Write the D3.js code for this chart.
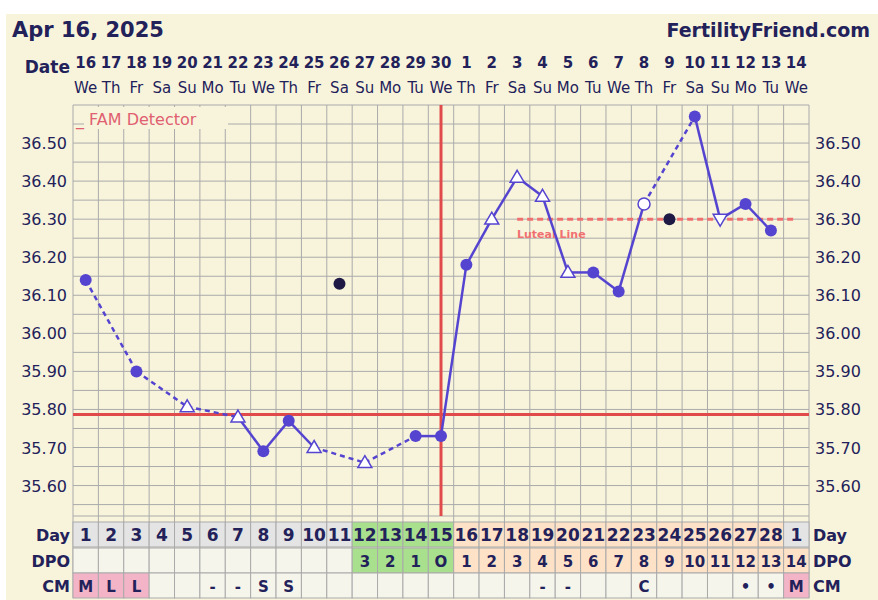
<!DOCTYPE html>
<html><head><meta charset="UTF-8">
<script src="https://d3js.org/d3.v7.min.js"></script>
<style>body{margin:0;background:#fff;font-family:Verdana,"DejaVu Sans",sans-serif;}</style>
</head><body><svg id="c" width="878" height="600"></svg>
<script>
const dates = [16,17,18,19,20,21,22,23,24,25,26,27,28,29,30,1,2,3,4,5,6,7,8,9,10,11,12,13,14];
const weekdays = ["We","Th","Fr","Sa","Su","Mo","Tu","We","Th","Fr","Sa","Su","Mo","Tu","We","Th","Fr","Sa","Su","Mo","Tu","We","Th","Fr","Sa","Su","Mo","Tu","We"];
const cycleDays = [1,2,3,4,5,6,7,8,9,10,11,12,13,14,15,16,17,18,19,20,21,22,23,24,25,26,27,28,1];
const dpo = ["","","","","","","","","","","",3,2,1,"O",1,2,3,4,5,6,7,8,9,10,11,12,13,14];
const cm = ["M","L","L","","","-","-","S","S","","","","","","","","","","-","-","","","C","","","","•","•","M"];
// temps: null = none; kind: f filled, t triangle, o open circle
const temps = [36.14,null,35.90,null,35.807,null,35.78,35.69,35.77,35.70,null,35.66,null,35.73,35.73,36.18,36.30,36.41,36.36,36.16,36.16,36.11,36.34,null,36.57,36.30,36.34,36.27,null];
const kinds = ["f","","f","","t","","t","f","f","t","","t","","f","f","f","t","t","t","t","f","f","o","","f","t","f","f",""];
const discarded = [[11,36.13],[24,36.30]];
const yTicks = [36.5,36.4,36.3,36.2,36.1,36.0,35.9,35.8,35.7,35.6];
const coverline = 35.787, ovDay = 15, luteal = 36.30, lutealFrom = 18;

const svg = d3.select("#c");
const navy = "#23215a", line = "#5544d0", red = "#e04a4a";
svg.append("rect").attr("x",6).attr("y",14).attr("width",872).attr("height",586).attr("fill","#f8f4dc");

const x = d3.scaleBand().domain(d3.range(1,30)).range([73,809]);
const cx = d => x(d) + x.bandwidth()/2;
const y = d3.scaleLinear().domain([35.52,36.6]).range([516,105]);

// grid
const g = svg.append("g").attr("stroke","#aaa").attr("stroke-width",1);
d3.range(1,31).forEach(i => {
  const xx = i<30 ? x(i) : 809;
  g.append("line").attr("x1",xx).attr("x2",xx).attr("y1",105).attr("y2",598);
});
d3.range(35.55,36.601,0.05).forEach(v => g.append("line").attr("x1",73).attr("x2",809).attr("y1",y(v)).attr("y2",y(v)));
g.append("line").attr("x1",73).attr("x2",809).attr("y1",516).attr("y2",516);

// FAM label box
svg.append("rect").attr("x",84).attr("y",107).attr("width",144).attr("height",22).attr("fill","#f8f4dc");
svg.append("text").attr("x",76).attr("y",125).attr("font-size",16).text("_ FAM Detector").attr("fill","#e06070");

// header
svg.append("text").attr("x",12).attr("y",37).attr("font-size",21).attr("font-weight","bold").attr("fill",navy).text("Apr 16, 2025");
svg.append("text").attr("x",870).attr("y",37).attr("text-anchor","end").attr("font-size",19).attr("font-weight","bold").attr("fill",navy).text("FertilityFriend.com");
svg.append("text").attr("x",70).attr("y",73).attr("text-anchor","end").attr("font-size",17).attr("font-weight","bold").attr("fill",navy).text("Date");
dates.forEach((d,i) => {
  svg.append("text").attr("x",cx(i+1)).attr("y",68).attr("text-anchor","middle").attr("font-size",15).attr("font-weight","bold").attr("fill",navy).text(d);
  svg.append("text").attr("x",cx(i+1)).attr("y",93).attr("text-anchor","middle").attr("font-size",15).attr("fill",navy).text(weekdays[i]);
});

// y labels
yTicks.forEach(v => {
  svg.append("text").attr("x",67).attr("y",y(v)+6).attr("text-anchor","end").attr("font-size",16).attr("fill",navy).text(v.toFixed(2));
  svg.append("text").attr("x",815).attr("y",y(v)+6).attr("font-size",16).attr("fill",navy).text(v.toFixed(2));
});

// table
const rows = [["Day",cycleDays,522],["DPO",dpo,548],["CM",cm,573]];
rows.forEach(([lab,vals,top]) => {
  vals.forEach((v,i) => {
    let fill = "#f6f5ec";
    if (lab==="Day") fill = (i>=11&&i<=14) ? "#a8e08e" : (i>=15&&i<=27) ? "#fde2c8" : "#e4e4e4";
    if (lab==="DPO") fill = (i>=11&&i<=14) ? "#a8e08e" : (i>=15) ? "#fde2c8" : "#f6f5ec";
    if (lab==="CM" && (v==="M"||v==="L")) fill = "#f4b4c8";
    svg.append("rect").attr("x",x(i+1)).attr("y",top).attr("width",x.bandwidth()).attr("height",25).attr("fill",fill).attr("stroke","#aaa");
    svg.append("text").attr("x",cx(i+1)).attr("y",top+19).attr("text-anchor","middle").attr("font-size",lab==="Day"?17:15).attr("font-weight","bold").attr("fill",navy).text(v);
  });
  svg.append("text").attr("x",70).attr("y",top+19).attr("text-anchor","end").attr("font-size",16).attr("font-weight","bold").attr("fill",navy).text(lab);
  svg.append("text").attr("x",813).attr("y",top+19).attr("font-size",16).attr("font-weight","bold").attr("fill",navy).text(lab);
});

// coverline & ovulation
svg.append("line").attr("x1",73).attr("x2",809).attr("y1",y(coverline)).attr("y2",y(coverline)).attr("stroke",red).attr("stroke-width",3);
svg.append("line").attr("x1",cx(ovDay)).attr("x2",cx(ovDay)).attr("y1",105).attr("y2",516).attr("stroke",red).attr("stroke-width",3);
svg.append("line").attr("x1",cx(lutealFrom)).attr("x2",cx(29)).attr("y1",y(luteal)).attr("y2",y(luteal)).attr("stroke","#f07070").attr("stroke-width",3).attr("stroke-dasharray","6,4");
svg.append("text").attr("x",517).attr("y",y(luteal)+19).attr("font-size",11).attr("font-weight","bold").attr("fill","#f07070").text("Luteal Line");

// temp line
const pts = temps.map((t,i)=>({d:i+1,t,k:kinds[i]})).filter(p=>p.t!==null);
for (let i=1;i<pts.length;i++){
  const a=pts[i-1], b=pts[i];
  svg.append("line").attr("x1",cx(a.d)).attr("y1",y(a.t)).attr("x2",cx(b.d)).attr("y2",y(b.t))
    .attr("stroke",line).attr("stroke-width",2.5).attr("stroke-dasharray",b.d-a.d>1?"5,4":null);
}
pts.forEach(p => {
  const px=cx(p.d), py=y(p.t);
  if (p.k==="f") svg.append("circle").attr("cx",px).attr("cy",py).attr("r",6).attr("fill",line);
  else if (p.k==="o") svg.append("circle").attr("cx",px).attr("cy",py).attr("r",6).attr("fill","#fff").attr("stroke",line).attr("stroke-width",1.5);
  else {
    const up = !(p.d===26);
    const s=7, pth = up ? `M${px},${py-s}L${px+s},${py+s*0.7}L${px-s},${py+s*0.7}Z` : `M${px},${py+s}L${px+s},${py-s*0.7}L${px-s},${py-s*0.7}Z`;
    svg.append("path").attr("d",pth).attr("fill","#fff").attr("stroke",line).attr("stroke-width",1.5);
  }
});
discarded.forEach(([d,t]) => svg.append("circle").attr("cx",cx(d)).attr("cy",y(t)).attr("r",6).attr("fill","#1e1a45"));
</script></body></html>
